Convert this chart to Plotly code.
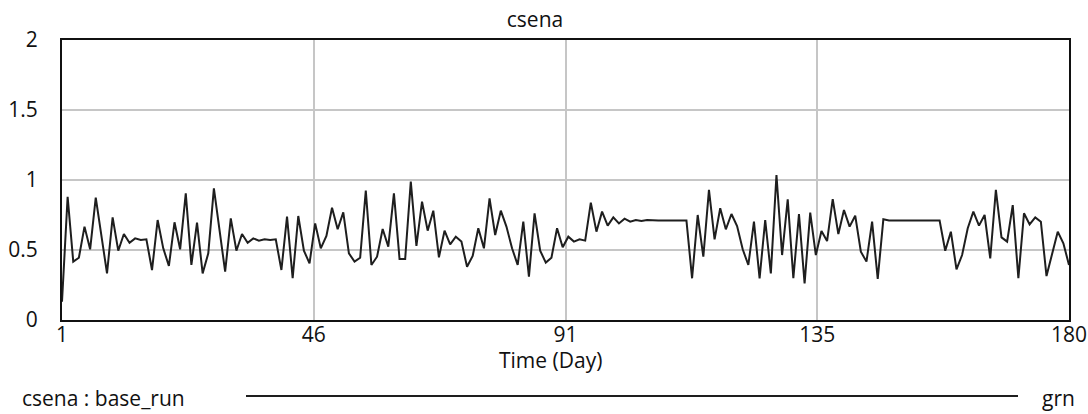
import plotly.graph_objects as go

days = list(range(1, 181))
csena = [
    0.13, 0.88, 0.417, 0.445, 0.667, 0.505, 0.874, 0.60, 0.333, 0.733,
    0.495, 0.614, 0.552, 0.583, 0.571, 0.576, 0.357, 0.714, 0.512, 0.386,
    0.698, 0.505, 0.905, 0.393, 0.695, 0.333, 0.476, 0.94, 0.64, 0.345,
    0.726, 0.495, 0.614, 0.552, 0.583, 0.567, 0.576, 0.571, 0.576, 0.357,
    0.738, 0.298, 0.743, 0.495, 0.405, 0.69, 0.512, 0.6, 0.802, 0.648,
    0.769, 0.476, 0.417, 0.445, 0.924, 0.393, 0.452, 0.65, 0.524, 0.905,
    0.436, 0.436, 0.988, 0.529, 0.845, 0.638, 0.781, 0.448, 0.638, 0.54,
    0.595, 0.56, 0.381, 0.457, 0.655, 0.512, 0.869, 0.607, 0.781, 0.667,
    0.512, 0.393, 0.702, 0.31, 0.762, 0.495, 0.41, 0.445, 0.655, 0.519,
    0.595, 0.56, 0.576, 0.567, 0.838, 0.631, 0.774, 0.674, 0.733, 0.69,
    0.724, 0.702, 0.714, 0.707, 0.714, 0.71, 0.71, 0.71, 0.71, 0.71,
    0.71, 0.71, 0.298, 0.75, 0.452, 0.929, 0.576, 0.798, 0.648, 0.757,
    0.671, 0.505, 0.393, 0.702, 0.298, 0.714, 0.333, 1.036, 0.464, 0.862,
    0.298, 0.757, 0.262, 0.767, 0.464, 0.636, 0.564, 0.864, 0.614, 0.786,
    0.667, 0.745, 0.488, 0.417, 0.702, 0.293, 0.719, 0.71, 0.71, 0.71,
    0.71, 0.71, 0.71, 0.71, 0.71, 0.71, 0.71, 0.495, 0.631, 0.362,
    0.464, 0.655, 0.774, 0.674, 0.75, 0.44, 0.929, 0.59, 0.56, 0.821,
    0.298, 0.762, 0.683, 0.733, 0.702, 0.314, 0.47, 0.631, 0.548, 0.393,
]

x_tick_vals = [1, 45.75, 90.5, 135.25, 180]
x_tick_text = ["1", "46", "91", "135", "180"]
y_tick_vals = [0, 0.5, 1, 1.5, 2]
y_tick_text = ["0", "0.5", "1", "1.5", "2"]

title_text = "csena"
x_title = "Time (Day)"
legend_label = "csena : base_run"
legend_unit = "grn"

FONT = "Open Sans"
FS = 21
TXT = "#111111"
LINE = "#1e1e1e"
GRID = "#c6c6c6"

fig = go.Figure()
fig.add_trace(go.Scatter(
    x=days, y=csena, mode="lines",
    line=dict(color=LINE, width=2),
    showlegend=False, hoverinfo="skip",
))

fig.update_layout(
    width=1088, height=414,
    margin=dict(l=62, r=19, t=40, b=94, autoexpand=False),
    paper_bgcolor="white", plot_bgcolor="white",
    font=dict(family=FONT, size=FS, color=TXT),
    title=dict(text=title_text, x=(535 - 62) / 1007, xref="paper", xanchor="center",
               y=1 - 20 / 414, yref="container", yanchor="middle",
               font=dict(family=FONT, size=FS, color=TXT)),
    showlegend=False,
)

fig.update_xaxes(
    range=[1, 180], tickvals=x_tick_vals, ticktext=x_tick_text,
    showgrid=True, gridcolor=GRID, gridwidth=2,
    showline=True, linecolor=TXT, linewidth=2, mirror=True,
    zeroline=False, ticks="", ticklabelstandoff=-5, automargin=False,
    tickfont=dict(family=FONT, size=FS, color=TXT),
)
fig.update_yaxes(
    range=[0, 2], tickvals=y_tick_vals, ticktext=y_tick_text,
    showgrid=True, gridcolor=GRID, gridwidth=2,
    showline=True, linecolor=TXT, linewidth=2, mirror=True,
    zeroline=False, ticks="", ticklabelstandoff=18, automargin=False,
    tickfont=dict(family=FONT, size=FS, color=TXT),
)

# x-axis title
fig.add_annotation(text=x_title, xref="paper", yref="paper",
                   x=(550 - 62) / 1007, y=(320 - 360) / 280, xanchor="center", yanchor="middle",
                   showarrow=False, font=dict(family=FONT, size=FS, color=TXT))

# legend row (Vensim style)
fig.add_annotation(text=legend_label, xref="paper", yref="paper",
                   x=(20 - 62) / 1007, y=(320 - 398) / 280, xanchor="left", yanchor="middle",
                   showarrow=False, font=dict(family=FONT, size=FS, color=TXT))
fig.add_shape(type="line", xref="paper", yref="paper",
              x0=(246 - 62) / 1007, x1=(1018 - 62) / 1007,
              y0=(320 - 396) / 280, y1=(320 - 396) / 280,
              line=dict(color=LINE, width=2))
fig.add_annotation(text=legend_unit, xref="paper", yref="paper",
                   x=(1077 - 62) / 1007, y=(320 - 398) / 280, xanchor="right", yanchor="middle",
                   showarrow=False, font=dict(family=FONT, size=FS, color=TXT))

fig.write_html("out.html")
